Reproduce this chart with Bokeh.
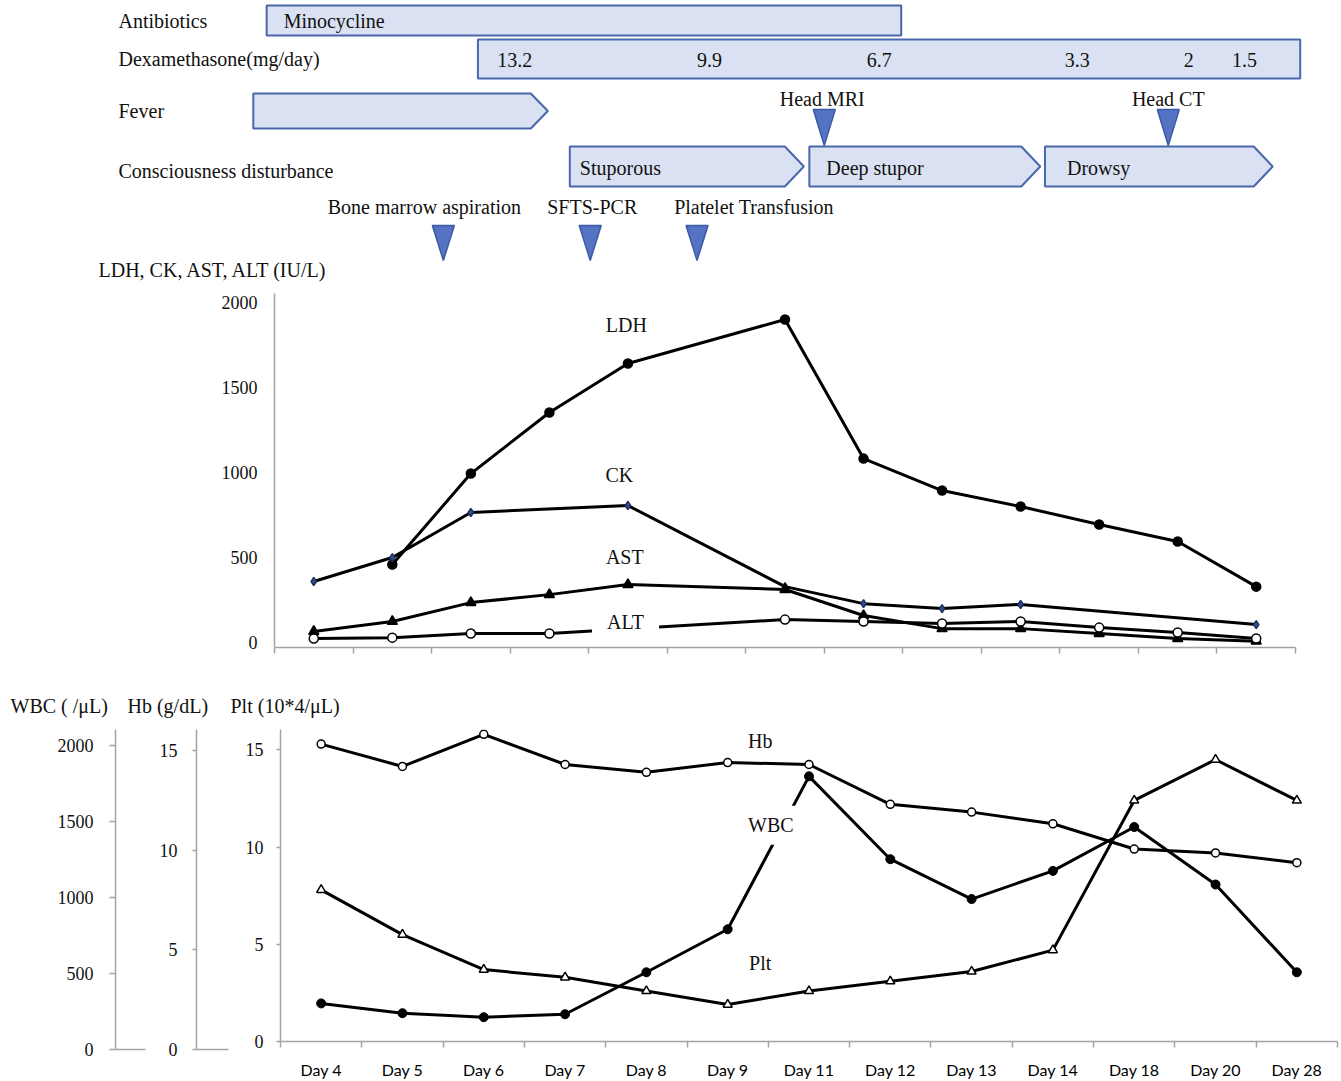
from bokeh.plotting import figure
from bokeh.models import Range1d, LinearAxis, FixedTicker, Label, ColumnDataSource
from bokeh.layouts import column, row
from bokeh.core.properties import value
from bokeh.embed import file_html
from bokeh.resources import INLINE

# ---------------- data ----------------
days = ["Day 4", "Day 5", "Day 6", "Day 7", "Day 8", "Day 9", "Day 11",
        "Day 12", "Day 13", "Day 14", "Day 18", "Day 20", "Day 28"]

# enzymes (IU/L); None = not measured
ldh = [None, 459, 994, 1353, 1641, None, 1900, 1082, 894, 800, 694, 594, 329]
ck = [359, 500, 765, None, 806, None, 329, 229, 200, 224, None, None, 106]
ast = [65, 124, 235, 282, 341, None, 312, 159, 82, 82, 53, 24, 8]
alt = [24, 29, 53, 53, None, None, 135, 124, 112, 124, 88, 59, 24]

# blood counts
hb = [15.3, 14.15, 15.8, 14.25, 13.85, 14.35, 14.25, 12.2, 11.8, 11.2, 9.9, 9.7, 9.2]
plt_vals = [7.8, 5.5, 3.7, 3.3, 2.6, 1.9, 2.6, 3.1, 3.6, 4.7, 12.4, 14.5, 12.4]
wbc = [257, 191, 164, 184, 467, 757, 1789, 1230, 961, 1151, 1447, 1059, 467]

enzyme_ticks = [0, 500, 1000, 1500, 2000]
wbc_ticks = [0, 500, 1000, 1500, 2000]
hb_ticks = [0, 5, 10, 15]
plt_ticks = [0, 5, 10, 15]

# clinical timeline (in day-column units of the enzyme chart, 0 = Day 4)
antibiotic_name = ["Minocycline"]
antibiotic_start = [-0.60]
antibiotic_end = [7.48]
dex_start = [2.09]
dex_end = [12.56]
dex_doses = ["13.2", "9.9", "6.7", "3.3", "2", "1.5"]
dex_dose_x = [2.56, 5.04, 7.20, 9.72, 11.14, 11.85]
fever_start = [-0.77]
fever_end = [2.98]
cons_states = ["Stuporous", "Deep stupor", "Drowsy"]
cons_start = [3.26, 6.31, 9.31]
cons_end = [6.24, 9.25, 12.21]
procedures = ["Bone marrow aspiration", "SFTS-PCR", "Platelet Transfusion"]
procedure_x = [1.65, 3.52, 4.88]
imaging = ["Head MRI", "Head CT"]
imaging_x = [6.50, 10.88]

# ---------------- style / layout ----------------
SERIF = "Liberation Serif"
SANS = "Lato"
FILL = "#dae1f2"
EDGE = "#4a66ad"
TRI_FILL = "#5473c3"
TRI_EDGE = "#3c5aa6"
AXIS = "#a3a3a3"
INK = "#111111"

W = 1341
A_H = 288
B_H, B_L, B_R, B_T, B_B = 401, 274, 46, 5, 42
D_H = 32
C_H, C_T, C_B = 360, 8, 32
N = len(days)
ppu = (W - B_L - B_R) / N          # pixels per day column in the enzyme chart
a_x0 = -0.5 - B_L / ppu
a_x1 = (N - 0.5) + B_R / ppu


def ax(page_x):
    return a_x0 + page_x / ppu


def style_axis(a, size="18px", font=SERIF):
    a.axis_line_color = AXIS
    a.axis_line_width = 1.5
    a.major_tick_line_color = AXIS
    a.major_tick_line_width = 1.5
    a.minor_tick_line_color = None
    a.major_label_text_font = font
    a.major_label_text_font_size = size
    a.major_label_text_color = INK


def bare(fig):
    fig.outline_line_color = None
    fig.grid.visible = False
    fig.background_fill_color = "white"
    fig.border_fill_color = "white"


COMMON = dict(output_backend="svg", toolbar_location=None, frame_align=False,
              x_axis_type=None, y_axis_type=None)

# ---------------- A: timeline ----------------
A = figure(width=W, height=A_H, x_range=Range1d(a_x0, a_x1), y_range=Range1d(A_H, 0),
           min_border=0, min_border_left=0, min_border_right=0, min_border_top=0, min_border_bottom=0,
           **COMMON)
bare(A)

A.quad(left=antibiotic_start, right=antibiotic_end, top=5, bottom=35,
       fill_color=FILL, line_color=EDGE, line_width=2)
A.quad(left=dex_start, right=dex_end, top=39, bottom=78,
       fill_color=FILL, line_color=EDGE, line_width=2)


def pentagons(starts, ends, top, bottom, depth_px):
    d = depth_px / ppu
    mid = (top + bottom) / 2
    xs = [[s, e - d, e, e - d, s] for s, e in zip(starts, ends)]
    ys = [[top, top, mid, bottom, bottom] for _ in starts]
    return xs, ys


fx, fy = pentagons(fever_start, fever_end, 93, 128, 17)
A.patches(fx, fy, fill_color=FILL, line_color=EDGE, line_width=2)
cx, cy = pentagons(cons_start, cons_end, 146, 186, 19)
A.patches(cx, cy, fill_color=FILL, line_color=EDGE, line_width=2)


def triangles(xs_c, top, tip, hw_px=11):
    hw = hw_px / ppu
    return ([[x - hw, x + hw, x] for x in xs_c], [[top, top, tip] for _ in xs_c])


tx, ty = triangles(procedure_x, 225, 260)
A.patches(tx, ty, fill_color=TRI_FILL, line_color=TRI_EDGE, line_width=1.5)
tx, ty = triangles(imaging_x, 109, 145)
A.patches(tx, ty, fill_color=TRI_FILL, line_color=TRI_EDGE, line_width=1.5)


def texts(fig, x, y, t, align="left", xoff=None, size="20px"):
    src = ColumnDataSource(dict(x=x, y=y, t=t, xo=xoff if xoff is not None else [0] * len(t)))
    fig.text("x", "y", text="t", source=src, x_offset="xo", text_font=value(SERIF),
             text_font_size=size, text_align=align, text_baseline="middle", text_color=INK)


row_labels = ["Antibiotics", "Dexamethasone(mg/day)", "Fever", "Consciousness disturbance"]
row_y = [20, 58, 110, 170]
texts(A, [ax(118)] * 4, row_y, row_labels)
texts(A, antibiotic_start, [20], antibiotic_name, xoff=[17])
texts(A, dex_dose_x, [59] * len(dex_doses), dex_doses, align="center")
texts(A, cons_start, [167] * 3, cons_states, xoff=[10, 17, 22])
texts(A, procedure_x, [206] * 3, procedures, align="center", xoff=[-19, 2, 57])
texts(A, imaging_x, [98] * 2, imaging, align="center", xoff=[-2, 0])
texts(A, [ax(98)], [269], ["LDH, CK, AST, ALT (IU/L)"])

# ---------------- B: enzymes ----------------
B = figure(width=W, height=B_H, x_range=Range1d(-0.5, N - 0.5), y_range=Range1d(-29, 2053),
           min_border_left=B_L, min_border_right=B_R, min_border_top=B_T, min_border_bottom=B_B,
           **COMMON)
bare(B)
yax = LinearAxis(ticker=FixedTicker(ticks=enzyme_ticks, minor_ticks=[]))
style_axis(yax)
yax.major_tick_out = 0
yax.major_tick_in = 0
yax.major_label_standoff = 17
B.add_layout(yax, "left")
xax = LinearAxis(ticker=FixedTicker(ticks=[], minor_ticks=[i - 0.5 for i in range(N + 1)]))
style_axis(xax)
xax.minor_tick_line_color = AXIS
xax.minor_tick_line_width = 1.5
xax.minor_tick_out = 6
xax.minor_tick_in = 0
xax.major_tick_out = 0
B.add_layout(xax, "below")


def series_src(vals):
    xs = [i for i, v in enumerate(vals) if v is not None]
    ys = [v for v in vals if v is not None]
    return ColumnDataSource(dict(x=xs, y=ys))


enz = [(ldh, "circle", 9, "black", "black"),
       (ck, "diamond", 8, "#34508f", "#1e2f60"),
       (ast, "triangle", 10, "black", "black"),
       (alt, "circle", 9, "white", "black")]
srcs = [series_src(v[0]) for v in enz]
for s in srcs:
    B.line("x", "y", source=s, line_color="black", line_width=3, line_join="round")
for s, (vals, mk, sz, fc, lc) in zip(srcs, enz):
    B.scatter("x", "y", source=s, marker=mk, size=sz, fill_color=fc, line_color=lc, line_width=1.5)

for name, x, y, pad in [("LDH", 3.98, 1865, None), ("CK", 3.89, 988, None),
                        ("AST", 3.96, 506, None), ("ALT", 3.97, 118, dict(left=15, right=15, top=2, bottom=4))]:
    kw = dict(x=x, y=y, text=name, text_font=SERIF, text_font_size="20px", text_color=INK,
              text_align="center", text_baseline="middle")
    if pad is not None:
        kw.update(background_fill_color="white", padding=pad)
    B.add_layout(Label(**kw))

# ---------------- D: axis titles strip ----------------
D = figure(width=W, height=D_H, x_range=Range1d(0, W), y_range=Range1d(0, 1),
           min_border=0, min_border_left=0, min_border_right=0, min_border_top=0, min_border_bottom=0,
           **COMMON)
bare(D)
for t, x in [("WBC ( /μL)", 10), ("Hb (g/dL)", 127), ("Plt (10*4/μL)", 230)]:
    D.add_layout(Label(x=x, y=0.5, text=t, text_font=SERIF, text_font_size="20px", text_color=INK,
                       text_align="left", text_baseline="middle"))

# ---------------- C: blood counts ----------------
WBC_MAX = 2105
HB_MAX = 16.05
C1_W, C2_W = 155, 87


def axis_fig(width, left, right, ymax, ticks, tick_out, standoff):
    f = figure(width=width, height=C_H, x_range=Range1d(0, 1), y_range=Range1d(0, ymax),
               min_border_left=left, min_border_right=right, min_border_top=C_T, min_border_bottom=C_B,
               **COMMON)
    bare(f)
    ya = LinearAxis(ticker=FixedTicker(ticks=ticks, minor_ticks=[]))
    style_axis(ya)
    ya.major_tick_out = tick_out
    ya.major_tick_in = 0
    ya.major_label_standoff = standoff
    f.add_layout(ya, "left")
    xa = LinearAxis(ticker=FixedTicker(ticks=[], minor_ticks=[]))
    style_axis(xa)
    f.add_layout(xa, "below")
    return f


C1 = axis_fig(C1_W, 115, 10, WBC_MAX, wbc_ticks, 6, 16)
C2 = axis_fig(C2_W, 41, 14, HB_MAX, hb_ticks, 4, 15)

C3 = figure(width=W - C1_W - C2_W, height=C_H, x_range=Range1d(-0.5, N - 0.5), y_range=Range1d(0, HB_MAX),
            min_border_left=37, min_border_right=4, min_border_top=C_T, min_border_bottom=C_B,
            **COMMON)
bare(C3)
C3.extra_y_ranges = {"wbc": Range1d(0, WBC_MAX)}
pya = LinearAxis(ticker=FixedTicker(ticks=plt_ticks, minor_ticks=[]))
style_axis(pya)
pya.major_tick_out = 4
pya.major_tick_in = 0
pya.major_label_standoff = 13
C3.add_layout(pya, "left")
dxa = LinearAxis(ticker=FixedTicker(ticks=list(range(N)), minor_ticks=[i - 0.5 for i in range(N + 1)]),
                 major_label_overrides={i: d for i, d in enumerate(days)})
style_axis(dxa, size="16px", font=SANS)
dxa.major_tick_line_color = None
dxa.major_tick_out = 0
dxa.major_tick_in = 0
dxa.minor_tick_line_color = AXIS
dxa.minor_tick_line_width = 1.5
dxa.minor_tick_out = 6
dxa.minor_tick_in = 0
dxa.major_label_standoff = 12
dxa.major_label_text_color = "#000000"
C3.add_layout(dxa, "below")

s_hb = series_src(hb)
s_plt = series_src(plt_vals)
s_wbc = series_src(wbc)
C3.line("x", "y", source=s_hb, line_color="black", line_width=3, line_join="round")
C3.line("x", "y", source=s_plt, line_color="black", line_width=3, line_join="round")
C3.line("x", "y", source=s_wbc, line_color="black", line_width=3, line_join="round", y_range_name="wbc")
C3.scatter("x", "y", source=s_hb, marker="circle", size=8, fill_color="white", line_color="black", line_width=1.5)
C3.scatter("x", "y", source=s_plt, marker="triangle", size=9, fill_color="white", line_color="black", line_width=1.5)
C3.scatter("x", "y", source=s_wbc, marker="circle", size=9, fill_color="black", line_color="black",
           y_range_name="wbc")

for name, x, y, pad in [("Hb", 5.40, 15.45, None), ("WBC", 5.53, 11.13, dict(left=6, right=6, top=8, bottom=9)),
                        ("Plt", 5.40, 4.06, None)]:
    kw = dict(x=x, y=y, text=name, text_font=SERIF, text_font_size="20px", text_color=INK,
              text_align="center", text_baseline="middle")
    if pad is not None:
        kw.update(background_fill_color="white", padding=pad)
    C3.add_layout(Label(**kw))

layout = column(A, B, D, row(C1, C2, C3))
open("out.html", "w").write(file_html(layout, INLINE))
